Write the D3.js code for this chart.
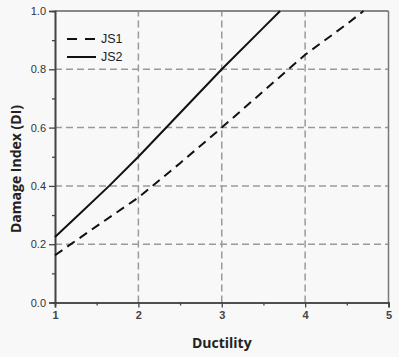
<!DOCTYPE html>
<html><head><meta charset="utf-8">
<script src="https://cdn.jsdelivr.net/npm/d3@7"></script>
<style>html,body{margin:0;padding:0;background:#f8f8f8;}</style>
</head><body>
<svg id="chart" width="399" height="357"></svg>
<script>
const js1X = [1, 1.5, 2, 2.5, 3, 3.5, 4, 4.5, 4.7];
const js1Y = [0.162, 0.262, 0.36, 0.478, 0.6, 0.725, 0.85, 0.955, 1.0];
const js2X = [1, 1.3, 1.65, 2, 2.5, 3, 3.5, 3.7];
const js2Y = [0.225, 0.305, 0.40, 0.50, 0.65, 0.80, 0.943, 1.0];
const xTicks = [1, 2, 3, 4, 5];
const xMinor = [1.5, 2.5, 3.5, 4.5];
const yTicks = [0, 0.2, 0.4, 0.6, 0.8, 1.0];
const yMinor = [0.1, 0.3, 0.5, 0.7, 0.9];
const seriesNames = ["JS1", "JS2"];

const svg = d3.select("#chart");
const L = 55, R = 388.5, T = 11, B = 302.5;
const x = d3.scaleLinear().domain([1, 5]).range([L, R]);
const y = d3.scaleLinear().domain([0, 1]).range([B, T]);

svg.append("rect").attr("width", 399).attr("height", 357).attr("fill", "#f8f8f8");

// grid
const grid = svg.append("g").attr("stroke", "#9a9a9a").attr("stroke-width", 1.5).attr("stroke-dasharray", "7,4");
xTicks.slice(1, -1).forEach(v => grid.append("line").attr("x1", x(v)).attr("x2", x(v)).attr("y1", B).attr("y2", T));
yTicks.slice(1, -1).forEach(v => grid.append("line").attr("x1", L).attr("x2", R).attr("y1", y(v)).attr("y2", y(v)));

// frame top/right
svg.append("line").attr("x1", L).attr("x2", R).attr("y1", T).attr("y2", T).attr("stroke", "#888").attr("stroke-width", 2);
svg.append("line").attr("x1", R).attr("x2", R).attr("y1", T).attr("y2", B).attr("stroke", "#777").attr("stroke-width", 1.5);

// axes
const xAxis = svg.append("g").attr("transform", `translate(0,${B})`)
  .call(d3.axisBottom(x).tickValues(xTicks).tickFormat(d3.format("d")).tickSize(5).tickPadding(4));
const xAxisMinor = svg.append("g").attr("transform", `translate(0,${B})`)
  .call(d3.axisBottom(x).tickValues(xMinor).tickFormat("").tickSize(3));
const yAxis = svg.append("g").attr("transform", `translate(${L},0)`)
  .call(d3.axisLeft(y).tickValues(yTicks).tickFormat(d3.format(".1f")).tickSize(6).tickPadding(3));
const yAxisMinor = svg.append("g").attr("transform", `translate(${L},0)`)
  .call(d3.axisLeft(y).tickValues(yMinor).tickFormat("").tickSize(3));
[xAxis, xAxisMinor, yAxis, yAxisMinor].forEach(g => {
  g.select(".domain").attr("stroke", "#444").attr("stroke-width", 1.6);
  g.selectAll(".tick line").attr("stroke", "#444").attr("stroke-width", 1.3);
  g.selectAll("text").attr("font-family", "Liberation Sans, Arial, sans-serif").attr("font-size", 11).attr("fill", "#333");
});
xAxis.selectAll("text").attr("font-weight", "bold").attr("fill", "#444");

// lines
const line = d3.line().x(d => x(d[0])).y(d => y(d[1]));
const d1 = js1X.map((v, i) => [v, js1Y[i]]);
const d2 = js2X.map((v, i) => [v, js2Y[i]]);
svg.append("path").datum(d1).attr("d", line).attr("fill", "none").attr("stroke", "#111").attr("stroke-width", 2).attr("stroke-dasharray", "9,6");
svg.append("path").datum(d2).attr("d", line).attr("fill", "none").attr("stroke", "#111").attr("stroke-width", 2);

// legend
const leg = svg.append("g");
seriesNames.forEach((name, i) => {
  const yy = 39 + i * 18;
  leg.append("line").attr("x1", 67).attr("x2", 96).attr("y1", yy).attr("y2", yy)
    .attr("stroke", "#111").attr("stroke-width", 2).attr("stroke-dasharray", i === 0 ? "10,8" : null);
  leg.append("text").attr("x", 101).attr("y", yy).attr("dy", "0.35em")
    .attr("font-family", "Liberation Sans, Arial, sans-serif").attr("font-size", 12.5).attr("fill", "#222").text(name);
});

// titles
svg.append("text").attr("x", (L + R) / 2).attr("y", 343).attr("dy", "0.35em").attr("text-anchor", "middle")
  .attr("font-family", "Open Sans, sans-serif").attr("font-weight", "bold").attr("font-size", 14).attr("fill", "#222").text("Ductility");
svg.append("text").attr("transform", "translate(16,169) rotate(-90)").attr("dy", "0.35em").attr("text-anchor", "middle")
  .attr("font-family", "Open Sans, sans-serif").attr("font-weight", "bold").attr("font-size", 14).attr("fill", "#222").text("Damage Index (DI)");
</script>
</body></html>
